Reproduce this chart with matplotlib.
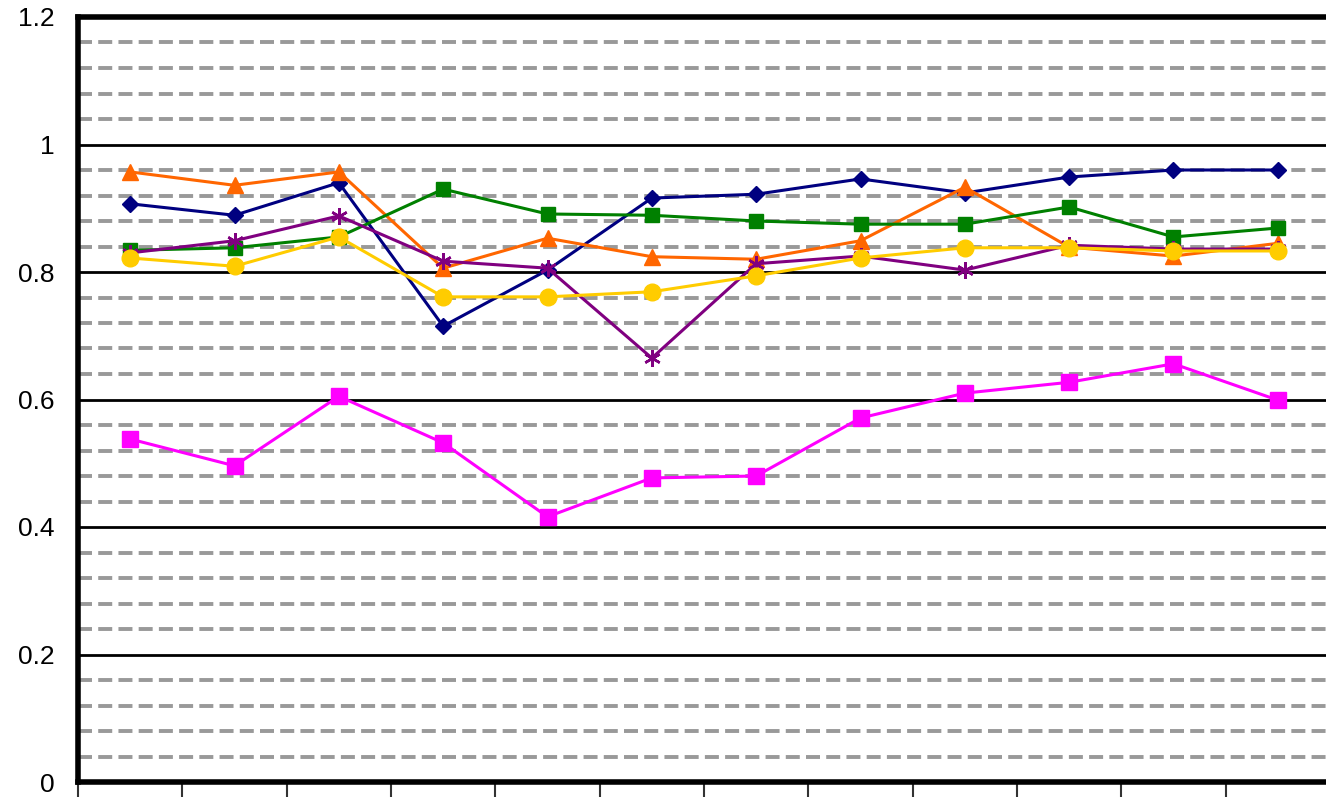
import numpy as np
import matplotlib.pyplot as plt

# category positions (no labels shown in the chart)
cats = np.arange(1, 13)

navy = [0.907, 0.889, 0.940, 0.715, 0.803, 0.916, 0.922, 0.946, 0.924, 0.949, 0.960, 0.960]
magenta = [0.538, 0.496, 0.605, 0.532, 0.416, 0.477, 0.480, 0.571, 0.610, 0.627, 0.656, 0.599]
orange = [0.957, 0.936, 0.957, 0.806, 0.853, 0.824, 0.820, 0.849, 0.933, 0.839, 0.825, 0.845]
green = [0.834, 0.838, 0.855, 0.930, 0.891, 0.889, 0.880, 0.875, 0.875, 0.902, 0.855, 0.869]
purple = [0.830, 0.849, 0.888, 0.817, 0.806, 0.665, 0.813, 0.825, 0.803, 0.842, 0.836, 0.836]
yellow = [0.822, 0.809, 0.855, 0.761, 0.761, 0.769, 0.794, 0.822, 0.838, 0.838, 0.833, 0.833]

yticks = [0, 0.2, 0.4, 0.6, 0.8, 1, 1.2]
ytick_labels = ["0", "0.2", "0.4", "0.6", "0.8", "1", "1.2"]

fig = plt.figure(figsize=(13.26, 7.97), dpi=100)
W, H = 1326, 797
ax = fig.add_axes([78 / W, 15 / H, 1252 / W, 765 / H])

# gridlines
for v in np.arange(0.04, 1.2, 0.04):
    if abs(v / 0.2 - round(v / 0.2)) < 1e-6:
        continue
    ax.axhline(v, color="#999999", lw=2.8, ls=(0, (3.6, 1.6)), zorder=0)
for v in [0.2, 0.4, 0.6, 0.8, 1.0]:
    ax.axhline(v, color="black", lw=2, zorder=0.5)

ax.plot(cats, navy, color="#000080", lw=2.2, marker="D", ms=8, zorder=3)
ax.plot(cats, magenta, color="#FF00FF", lw=2.2, marker="s", ms=11, zorder=3)
ax.plot(cats, orange, color="#FF6600", lw=2.2, marker="^", ms=12, zorder=3)
ax.plot(cats, green, color="#008000", lw=2.2, marker="s", ms=10.5, zorder=3)
ax.plot(cats, purple, color="#800080", lw=2.2, marker=(6, 2, 0), ms=12, mew=1.8, zorder=3)
ax.plot(cats, yellow, color="#FFCC00", lw=2.2, marker="o", ms=12, zorder=3)

ax.set_xlim(0.5, 12.5)
ax.set_ylim(0, 1.2)

ax.set_xticks(np.arange(0.5, 13, 1))
ax.set_xticklabels([])
ax.tick_params(axis="x", direction="out", length=11, width=1.5, color="#333333")

ax.set_yticks(yticks)
ax.set_yticklabels(ytick_labels, fontsize=19, family="Liberation Sans")
ax.tick_params(axis="y", length=0, pad=17)

for s in ["left", "top", "bottom"]:
    ax.spines[s].set_linewidth(4)
    ax.spines[s].set_color("black")
ax.spines["right"].set_visible(False)

plt.savefig("out.png", dpi=100)
